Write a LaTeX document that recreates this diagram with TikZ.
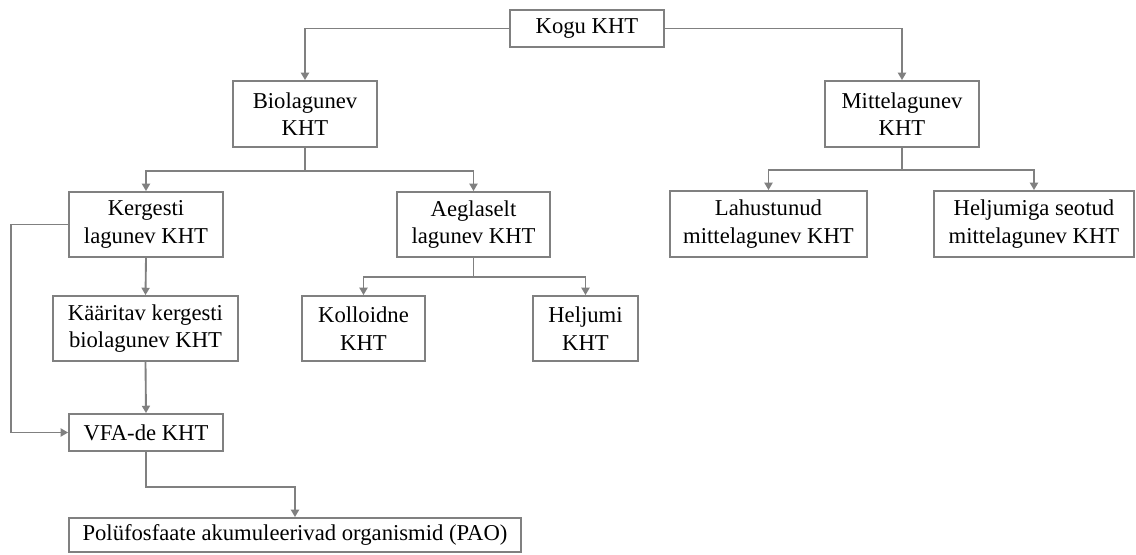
\documentclass[tikz,border=0pt]{standalone}
\usepackage{fontspec}
\setmainfont{Liberation Serif}
\usetikzlibrary{arrows.meta}

\begin{document}
\begin{tikzpicture}[x=0.75pt, y=-0.75pt, every node/.style={draw=gray, rectangle, line width=1.4pt, inner sep=0pt, align=center, text=black, font=\rmfamily\fontsize{17}{20.5}\selectfont}, link/.style={draw=gray, line width=1.4pt, -{Triangle[width=6pt,length=5.5pt]}}]
\useasboundingbox (0,0) rectangle (1136,554);
\node[minimum width=115.5pt, minimum height=27.75pt] (KHT) at (587,28.5) {Kogu KHT};
\node[minimum width=108pt, minimum height=49.5pt] (BIO) at (305,114) {Biolagunev\\KHT};
\node[minimum width=115.5pt, minimum height=49.5pt] (MIT) at (902,114) {Mittelagunev\\KHT};
\node[minimum width=115.5pt, minimum height=48.75pt] (KER) at (146,224.5) {Kergesti\\lagunev KHT};
\node[minimum width=114.75pt, minimum height=48.75pt] (AEG) at (473.5,224.5) {Aeglaselt\\lagunev KHT};
\node[minimum width=147.75pt, minimum height=49.5pt] (LAH) at (768.5,224) {Lahustunud\\mittelagunev KHT};
\node[minimum width=150pt, minimum height=49.5pt] (HEL) at (1034,224) {Heljumiga seotud\\mittelagunev KHT};
\node[minimum width=138.75pt, minimum height=48.75pt] (KAA) at (145.5,328.5) {Kääritav kergesti\\biolagunev KHT};
\node[minimum width=92.25pt, minimum height=48.75pt] (KOL) at (363.5,328.5) {Kolloidne\\KHT};
\node[minimum width=78.75pt, minimum height=48.75pt] (HJM) at (585.5,328.5) {Heljumi\\KHT};
\node[minimum width=115.5pt, minimum height=27.75pt] (VFA) at (146,432.5) {VFA-de KHT};
\node[minimum width=339pt, minimum height=25.5pt] (PAO) at (295,535) {Polüfosfaate akumuleerivad organismid (PAO)};
\draw[link] (KHT.west) -| (BIO.north);
\draw[link] (KHT.east) -| (MIT.north);
\draw[link] (BIO.south) -- ++(0,23) coordinate (B1) -| (KER.north);
\draw[link] (B1) -| (AEG.north);
\draw[link] (MIT.south) -- ++(0,22) coordinate (M1) -| (LAH.north);
\draw[link] (M1) -| (HEL.north);
\draw[link] (AEG.south) -- ++(0,19) coordinate (A1) -| (KOL.north);
\draw[link] (A1) -| (HJM.north);
\draw[link] (KER.south) -- (KAA.north);
\draw[link] (KAA.south) -- (VFA.north);
\draw[link] (KER.west) -- ++(-57,0) |- (VFA.west);
\draw[link] (VFA.south) -- ++(0,35) -| (PAO.north);
\end{tikzpicture}
\end{document}
